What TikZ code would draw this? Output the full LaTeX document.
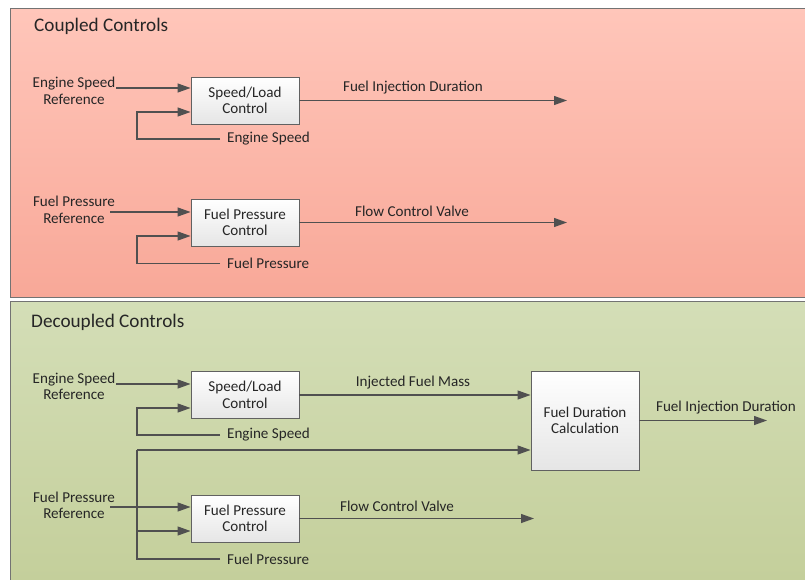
\documentclass[tikz,border=0pt]{standalone}
\usepackage{fontspec}
\setmainfont{Carlito}
\usetikzlibrary{arrows.meta,calc}
\definecolor{pinktop}{RGB}{255,198,186}
\definecolor{pinkbot}{RGB}{248,168,152}
\definecolor{greentop}{RGB}{212,222,183}
\definecolor{greenbot}{RGB}{196,207,155}
\definecolor{wire}{RGB}{80,80,80}
\begin{document}
\begin{tikzpicture}[x=1pt,y=-1pt,
	every node/.style={font=\fontsize{15.1}{16.5}\selectfont, text=black!85, inner sep=1pt},
	ctrl/.style={draw=wire!90, line width=0.9pt, top color=white, bottom color=black!10,
		minimum width=108pt, minimum height=47pt, align=center},
	lbl/.style={align=center},
	fbl/.style={anchor=west, inner xsep=7pt},
	ttl/.style={anchor=west, font=\fontsize{19.2}{21}\selectfont},
	conn/.style={draw=wire, line width=1.2pt},
	arr/.style={conn, -{Triangle[length=13pt,width=9pt]}}]
	\useasboundingbox (0,0) rectangle (805,579);
	% panels
	\shade [top color=pinktop, bottom color=pinkbot, draw=black!55, line width=0.8pt] (10,8) rectangle (806,297);
	\shade [top color=greentop, bottom color=greenbot, draw=black!55, line width=0.8pt] (10,301) rectangle (806,580);
	\node [ttl] (title1) at (33,26) {Coupled Controls};
	\node [ttl] (title2) at (30,322) {Decoupled Controls};

	% coupled: speed/load
	\node [ctrl] (slc1) at (245,100.5) {Speed/Load\\Control};
	\node [lbl] (esr1) at (74,91) {Engine Speed\\Reference};
	\node [fbl] (esf1) at (220,139) {Engine Speed};
	\coordinate (fb1) at (137,112);
	\draw [arr] (esr1.east |- 0,88) -- (slc1.west |- 0,88);
	\draw [arr] (esf1.west) -| (fb1) -- (fb1 -| slc1.west);
	\coordinate (out1) at (567,100.5);
	\draw [arr] (slc1.east) -- (out1);
	\node (fid1) at (413,88) {Fuel Injection Duration};

	% coupled: fuel pressure
	\node [ctrl] (fpc1) at (245,222.5) {Fuel Pressure\\Control};
	\node [lbl] (fpr1) at (74,210) {Fuel Pressure\\Reference};
	\node [fbl] (fpf1) at (220,263.5) {Fuel Pressure};
	\coordinate (fb2) at (137,236);
	\draw [arr] (110,212) -- (fpc1.west |- 0,212);
	\draw [arr] (fpf1.west) -| (fb2) -- (fb2 -| fpc1.west);
	\coordinate (out2) at (567,222.5);
	\draw [arr] (fpc1.east) -- (out2);
	\node (fcv1) at (412,211) {Flow Control Valve};

	% decoupled: speed/load
	\node [ctrl] (slc2) at (245,395) {Speed/Load\\Control};
	\node [lbl] (esr2) at (74,386.5) {Engine Speed\\Reference};
	\node [fbl] (esf2) at (220,435) {Engine Speed};
	\coordinate (fb3) at (137,408);
	\draw [arr] (esr2.east |- 0,384) -- (slc2.west |- 0,384);
	\draw [arr] (esf2.west) -| (fb3) -- (fb3 -| slc2.west);
	\node [ctrl, minimum height=99pt] (fdc) at (585,420.5) {Fuel Duration\\Calculation};
	\draw [arr] (slc2.east) -- (slc2.east -| fdc.west);
	\node (ifm) at (413,383) {Injected Fuel Mass};
	\coordinate (out3) at (767,420.5);
	\draw [arr] (fdc.east) -- (out3);
	\node (fid2) at (726,408) {Fuel Injection Duration};

	% decoupled: fuel pressure
	\node [ctrl] (fpc2) at (245,518.5) {Fuel Pressure\\Control};
	\node [lbl] (fpr2) at (74,505.5) {Fuel Pressure\\Reference};
	\node [fbl] (fpf2) at (220,559) {Fuel Pressure};
	\coordinate (split) at (137,450);
	\coordinate (fb4) at (137,531);
	\draw [arr] (110,507) -- (fpc2.west |- 0,507);
	\draw [conn] (fpf2.west) -| (split);
	\draw [arr] (split) -- (split -| fdc.west);
	\draw [arr] (fb4) -- (fb4 -| fpc2.west);
	\coordinate (out4) at (534,518.5);
	\draw [arr] (fpc2.east) -- (out4);
	\node (fcv2) at (397,506) {Flow Control Valve};
\end{tikzpicture}
\end{document}
